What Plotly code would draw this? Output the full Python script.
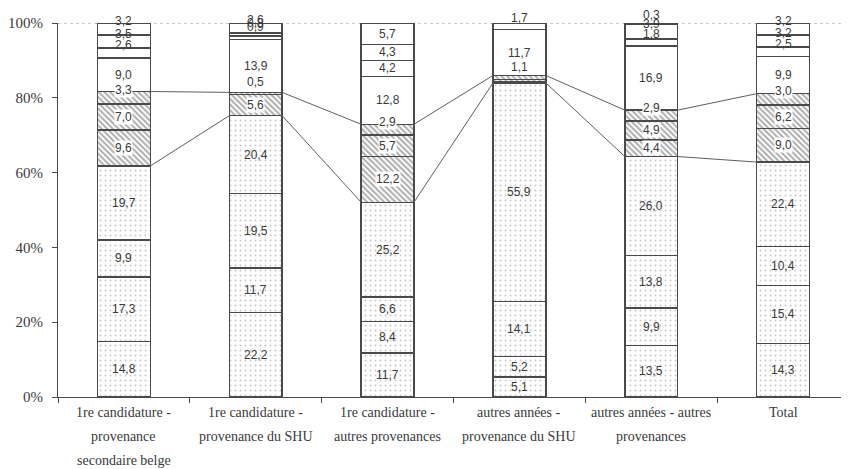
import plotly.graph_objects as go

# categories (one line per entry, the axis labels are written line by line)
category_lines = [
    ["1re candidature -", "provenance", "secondaire belge"],
    ["1re candidature -", "provenance du SHU"],
    ["1re candidature -", "autres provenances"],
    ["autres années -", "provenance du SHU"],
    ["autres années - autres", "provenances"],
    ["Total"],
]
categories = [" ".join(c) for c in category_lines]

# stacked segments, bottom to top
dot_1 = [14.8, 22.2, 11.7, 5.1, 13.5, 14.3]
dot_2 = [17.3, 11.7, 8.4, 5.2, 9.9, 15.4]
dot_3 = [9.9, 19.5, 6.6, 14.1, 13.8, 10.4]
dot_4 = [19.7, 20.4, 25.2, 55.9, 26.0, 22.4]
hatch_1 = [9.6, 0.0, 12.2, 0.4, 4.4, 9.0]
hatch_2 = [7.0, 5.6, 5.7, 0.4, 4.9, 6.2]
hatch_3 = [3.3, 0.5, 2.9, 1.1, 2.9, 3.0]
white_1 = [9.0, 13.9, 12.8, 11.7, 16.9, 9.9]
white_2 = [2.6, 0.9, 4.2, 0.0, 1.8, 2.5]
white_3 = [3.5, 0.8, 4.3, 0.0, 3.9, 3.2]
white_4 = [3.2, 2.6, 5.7, 1.7, 0.3, 3.2]

y_ticks = [0, 20, 40, 60, 80, 100]
y_tick_text = ["0%", "20%", "40%", "60%", "80%", "100%"]

# segments drawn without a printed value
hidden_labels = {("hatch_1", 3), ("hatch_2", 3)}

series = [
    ("dot_1", dot_1, "dot"), ("dot_2", dot_2, "dot"),
    ("dot_3", dot_3, "dot"), ("dot_4", dot_4, "dot"),
    ("hatch_1", hatch_1, "hatch"), ("hatch_2", hatch_2, "hatch"),
    ("hatch_3", hatch_3, "hatch"),
    ("white_1", white_1, "white"), ("white_2", white_2, "white"),
    ("white_3", white_3, "white"), ("white_4", white_4, "white"),
]

edge = "#4a4a4a"
txt = "#3a3a3a"
serif = "Liberation Serif, Times New Roman, serif"
patterns = {
    "dot": dict(shape=".", fgcolor="#8f8f8f", bgcolor="white", size=5, solidity=0.12),
    "hatch": dict(shape="\\", fgcolor="#5a5a5a", bgcolor="white", size=4, solidity=0.5),
    "white": dict(shape="", bgcolor="white"),
}

fig = go.Figure()
for name, vals, kind in series:
    fig.add_trace(go.Bar(
        x=categories, y=vals, name=name,
        marker=dict(color="white", line=dict(color=edge, width=1.5),
                    pattern=patterns[kind]),
        hoverinfo="skip",
    ))

n = len(categories)
totals = [sum(s[1][i] for s in series) for i in range(n)]

# value labels and boundary levels (normalised to 100 %)
annotations = []
levels = {"dot_4": [], "hatch_3": []}
for i in range(n):
    cum = 0.0
    for name, vals, kind in series:
        v = vals[i]
        lo = cum / totals[i] * 100
        cum += v
        hi = cum / totals[i] * 100
        if name in levels:
            levels[name].append(hi)
        if v <= 0 or (name, i) in hidden_labels:
            continue
        shift = 0
        if v < 1.5:
            shift = 11 if hi < 99.9 else 9
        elif v < 4:
            shift = 8 if kind != "dot" else 0
        annotations.append(dict(
            x=categories[i], y=(lo + hi) / 2, xref="x", yref="y",
            text=f"{v:.1f}".replace(".", ","), showarrow=False, yshift=shift,
            font=dict(family="Liberation Sans Narrow, Liberation Sans, Arial",
                      size=12, color=txt),
            bgcolor="white" if kind == "hatch" else None, borderpad=0,
        ))

# category labels, one annotation per line for the wide line spacing
for i, lines in enumerate(category_lines):
    for k, line in enumerate(lines):
        annotations.append(dict(
            x=categories[i], y=0, xref="x", yref="paper", yanchor="top",
            text=line, showarrow=False, yshift=-6 - 24 * k,
            font=dict(family=serif, size=14, color=txt),
        ))

shapes = [dict(type="line", xref="paper", yref="y", x0=0, x1=1, y0=100, y1=100,
               line=dict(color="#9a9a9a", width=1, dash="dot"), layer="below")]
half = 0.2
for name in levels:
    lv = levels[name]
    for i in range(n - 1):
        shapes.append(dict(type="line", xref="x", yref="y",
                           x0=i + half, x1=i + 1 - half, y0=lv[i], y1=lv[i + 1],
                           line=dict(color="#5f5f5f", width=1)))

# the page adds an 8px body margin, so the figure is 8px smaller than the window
fig.update_layout(
    width=841, height=461,
    barmode="stack", barnorm="percent", bargap=0.6,
    showlegend=False,
    plot_bgcolor="white", paper_bgcolor="white",
    margin=dict(l=50, r=0, t=15, b=72),
    annotations=annotations, shapes=shapes,
    xaxis=dict(
        type="category", showticklabels=False, tickson="boundaries",
        ticks="outside", ticklen=5, tickcolor=edge,
        showline=True, linecolor=edge, linewidth=1, showgrid=False,
    ),
    yaxis=dict(
        range=[0, 100], tickmode="array", tickvals=y_ticks, ticktext=y_tick_text,
        ticks="outside", ticklen=5, tickcolor=edge, ticklabelstandoff=6,
        showline=True, linecolor=edge, linewidth=1, showgrid=False, zeroline=False,
        tickfont=dict(family=serif, size=15, color=txt),
    ),
)

fig.write_html("out.html")
